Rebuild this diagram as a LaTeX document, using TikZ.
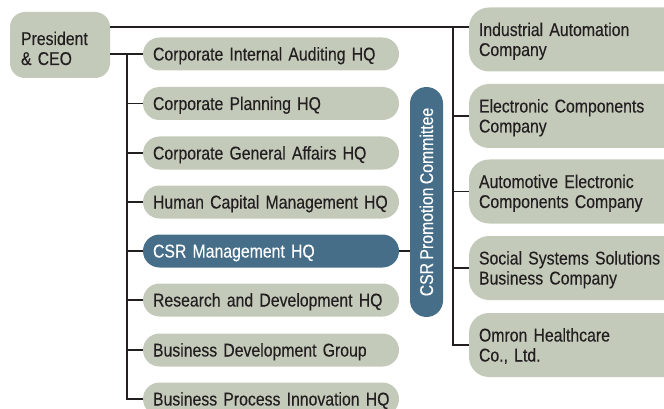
\documentclass[tikz,border=0pt]{standalone}
\usepackage{fontspec}
\setmainfont{Liberation Sans}[FakeStretch=0.855, WordSpace=0.75, FakeBold=0.25]
\definecolor{sage}{HTML}{C3CAB9}
\definecolor{steel}{HTML}{466E89}
\definecolor{ink}{HTML}{231F20}
\begin{document}
\begin{tikzpicture}[x=1pt,y=-1pt,
  every node/.style={font=\fontsize{18.5}{20}\selectfont, text=ink},
  hq/.style={fill=sage, rounded corners=16.5pt, minimum width=256pt, minimum height=33pt,
    text width=236pt, align=left, inner xsep=10pt, inner ysep=0pt, text height=13pt, text depth=0pt},
  csrbox/.style={hq, fill=steel, text=white},
  co/.style={fill=sage, rounded corners=20pt, minimum width=250pt, minimum height=64pt,
    text width=230pt, align=left, inner xsep=10pt, inner ysep=0pt, text height=13pt, text depth=20pt},
  link/.style={draw=ink, line width=1.8pt}]
\useasboundingbox (0,0) rectangle (664,409);
\clip (0,0) rectangle (664,409);
% president
\node[fill=sage, rounded corners=15pt, minimum width=100pt, minimum height=66pt, text width=78pt,
  inner xsep=11pt, inner ysep=0pt, align=left, text height=20pt, text depth=20pt] (pres) at (60,45) {President\\\& CEO};
% HQ column
\node[hq] (h1) at (271,54) {\mbox{Corporate Internal Auditing HQ}};
\node[hq] (h2) at (271,103.5) {\mbox{Corporate Planning HQ}};
\node[hq] (h3) at (271,153) {\mbox{Corporate General Affairs HQ}};
\node[hq] (h4) at (271,202) {\mbox{Human Capital Management HQ}};
\node[csrbox] (h5) at (271,251) {\mbox{CSR Management HQ}};
\node[hq] (h6) at (271,300) {\mbox{Research and Development HQ}};
\node[hq] (h7) at (271,350) {\mbox{Business Development Group}};
\node[hq] (h8) at (271,399) {\mbox{Business Process Innovation HQ}};
% committee
\node[fill=steel, rounded corners=16.5pt, minimum width=33pt, minimum height=230pt, inner sep=0pt] (com) at (426.5,202) {};
\node[rotate=90, text=white, inner sep=0pt, text height=13pt, text depth=0pt] (comt) at (com.center) {CSR Promotion Committee};
% companies
\node[co] (ind) at (594,39.5) {\mbox{Industrial Automation}\\Company};
\node[co] (ele) at (594,116) {\mbox{Electronic Components}\\Company};
\node[co] (aut) at (594,191.5) {\mbox{Automotive Electronic}\\\mbox{Components Company}};
\node[co] (soc) at (594,268) {\mbox{Social Systems Solutions}\\\mbox{Business Company}};
\node[co] (omr) at (594,345) {\mbox{Omron Healthcare}\\Co., Ltd.};
% connectors
\coordinate (lj) at (127,54);
\coordinate (rj) at (453,27);
\draw[link] (pres.east |- lj) -- (h1.west);
\draw[link] (lj) |- (h8.west);
\foreach \k in {2,...,7} { \draw[link] (lj |- h\k.west) -- (h\k.west); }
\draw[link] (pres.east |- rj) -- (ind.west |- rj);
\draw[link] (rj) |- (omr.west);
\foreach \k in {ele,aut,soc} { \draw[link] (rj |- \k.west) -- (\k.west); }
\draw[link] (h5.east) -- (com.west |- h5.east);
\end{tikzpicture}
\end{document}
